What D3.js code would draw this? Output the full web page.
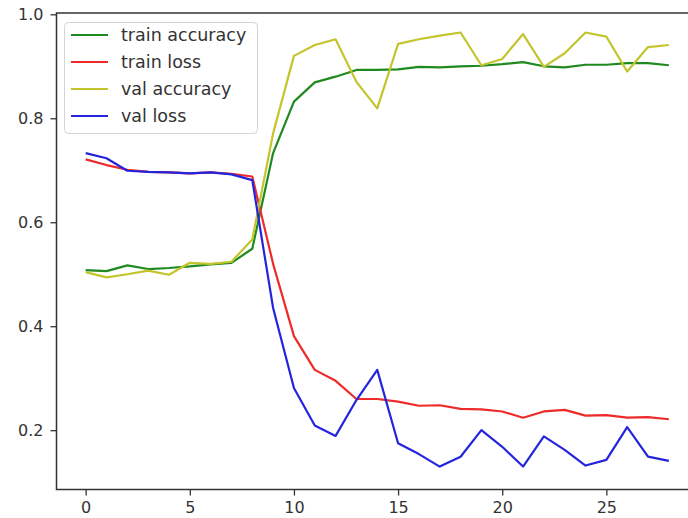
<!DOCTYPE html>
<html>
<head>
<meta charset="utf-8">
<script src="https://cdn.jsdelivr.net/npm/d3@7"></script>
<style>
  body { margin: 0; background: #fff; }
  svg { display: block; font-family: "DejaVu Sans", sans-serif; }
</style>
</head>
<body>
<svg id="chart" width="688" height="518"></svg>
<script>
// epochs 0..28
const epochs = d3.range(29);

const trainAccuracy = [0.508, 0.506, 0.517, 0.510, 0.512, 0.515, 0.519, 0.522, 0.549, 0.733,
  0.832, 0.869, 0.880, 0.893, 0.893, 0.894, 0.899, 0.898, 0.900, 0.901,
  0.904, 0.908, 0.900, 0.898, 0.903, 0.903, 0.906, 0.906, 0.902];
const trainLoss = [0.721, 0.710, 0.701, 0.697, 0.696, 0.694, 0.696, 0.693, 0.688, 0.520,
  0.381, 0.316, 0.295, 0.260, 0.260, 0.255, 0.247, 0.248, 0.241, 0.240,
  0.236, 0.224, 0.236, 0.239, 0.228, 0.229, 0.224, 0.225, 0.221];
const valAccuracy = [0.504, 0.494, 0.500, 0.507, 0.499, 0.522, 0.520, 0.524, 0.567, 0.771,
  0.920, 0.941, 0.952, 0.870, 0.819, 0.943, 0.952, 0.959, 0.965, 0.902,
  0.914, 0.962, 0.899, 0.925, 0.965, 0.957, 0.890, 0.937, 0.941];
const valLoss = [0.733, 0.723, 0.699, 0.697, 0.696, 0.694, 0.696, 0.692, 0.681, 0.435,
  0.281, 0.209, 0.189, 0.258, 0.316, 0.175, 0.154, 0.130, 0.149, 0.200,
  0.168, 0.130, 0.188, 0.162, 0.132, 0.143, 0.206, 0.149, 0.141];

const seriesNames = ["train accuracy", "train loss", "val accuracy", "val loss"];
const seriesColors = ["#1f8a1f", "#ee2a2a", "#c4c42c", "#2424dd"];
const xTicks = [0, 5, 10, 15, 20, 25];
const yTicks = [0.2, 0.4, 0.6, 0.8, 1.0];

class LineChart {
  constructor(_config, _series) {
    this.config = {
      parentElement: _config.parentElement,
      xDomain: _config.xDomain,
      yDomain: _config.yDomain,
      left: 56.5, right: 698, top: 13, bottom: 489.5
    };
    this.series = _series;
    this.initVis();
  }

  initVis() {
    let vis = this;
    vis.svg = d3.select(vis.config.parentElement);
    vis.x = d3.scaleLinear().domain(vis.config.xDomain).range([vis.config.left, vis.config.right]);
    vis.y = d3.scaleLinear().domain(vis.config.yDomain).range([vis.config.bottom, vis.config.top]);
    vis.renderVis();
  }

  renderVis() {
    let vis = this;
    const c = vis.config;
    const axisColor = "#333";

    // lines
    const line = d3.line().x((d, i) => vis.x(epochs[i])).y(d => vis.y(d));
    vis.svg.selectAll(".series")
      .data(vis.series)
      .enter()
      .append("path")
      .attr("class", "series")
      .attr("d", d => line(d.values))
      .attr("fill", "none")
      .attr("stroke", d => d.color)
      .attr("stroke-width", 2.2)
      .attr("stroke-linejoin", "round");

    // axes
    const xAxis = vis.svg.append("g")
      .attr("transform", `translate(0,${c.bottom})`)
      .call(d3.axisBottom(vis.x).tickValues(xTicks).tickSize(6).tickPadding(6.5).tickFormat(d3.format("d")));
    const yAxis = vis.svg.append("g")
      .attr("transform", `translate(${c.left},0)`)
      .call(d3.axisLeft(vis.y).tickValues(yTicks).tickSize(6).tickPadding(7).tickFormat(d3.format(".1f")));
    [xAxis, yAxis].forEach(a => {
      a.select(".domain").remove();
      a.selectAll("line").attr("stroke", axisColor).attr("stroke-width", 1.3);
      a.selectAll("text").attr("fill", axisColor).style("font-size", "16px").style("font-family", "DejaVu Sans");
    });

    // frame
    vis.svg.append("rect")
      .attr("x", c.left).attr("y", c.top)
      .attr("width", c.right - c.left).attr("height", c.bottom - c.top)
      .attr("fill", "none").attr("stroke", axisColor).attr("stroke-width", 1.5);

    // legend
    const legend = vis.svg.append("g");
    legend.append("rect")
      .attr("x", 64.5).attr("y", 22.5).attr("width", 193).attr("height", 111)
      .attr("rx", 4)
      .attr("fill", "#fff").attr("fill-opacity", 0.85)
      .attr("stroke", "#d4d4d4").attr("stroke-width", 1);
    const items = legend.selectAll(".item")
      .data(vis.series)
      .enter()
      .append("g")
      .attr("transform", (d, i) => `translate(0,${35 + i * 27})`);
    items.append("line")
      .attr("x1", 71).attr("x2", 108)
      .attr("stroke", d => d.color).attr("stroke-width", 2.2);
    items.append("text")
      .attr("x", 121).attr("dy", "0.35em")
      .attr("fill", axisColor)
      .style("font-size", "17.5px")
      .text(d => d.name);
  }
}

const series = [trainAccuracy, trainLoss, valAccuracy, valLoss].map((values, i) => ({
  name: seriesNames[i], color: seriesColors[i], values: values
}));

new LineChart({ parentElement: "#chart", xDomain: [-1.4, 29.4], yDomain: [0.0859, 1.0025] }, series);
</script>
</body>
</html>
